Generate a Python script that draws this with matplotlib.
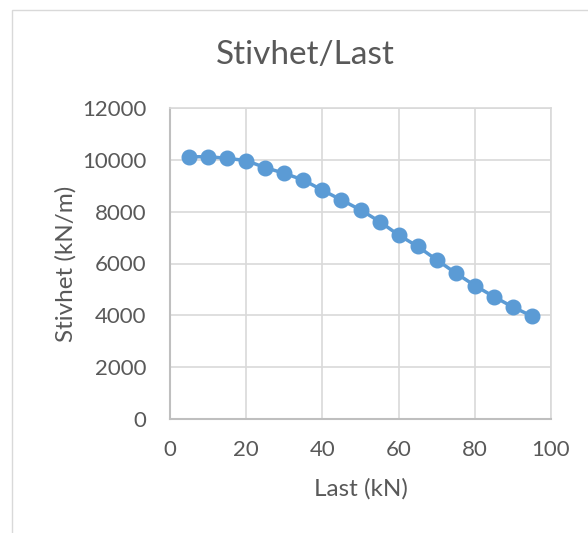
import matplotlib
matplotlib.use("Agg")
import matplotlib.pyplot as plt
from matplotlib.patches import Rectangle

# Load vs. stiffness measurements
last_kn = [5, 10, 15, 20, 25, 30, 35, 40, 45, 50, 55, 60, 65, 70, 75, 80, 85, 90, 95]
stivhet = [10120, 10120, 10060, 9970, 9700, 9480, 9220, 8830, 8450, 8070,
           7620, 7100, 6660, 6140, 5630, 5150, 4720, 4320, 3970]

x_ticks = [0, 20, 40, 60, 80, 100]
y_ticks = [0, 2000, 4000, 6000, 8000, 10000, 12000]

plt.rcParams['font.family'] = ['Lato', 'DejaVu Sans']
text_color = '#595959'
series_color = '#5B9BD5'

fig = plt.figure(figsize=(5.88, 5.33), dpi=100)
fig.patch.set_facecolor('white')

# chart frame
fig.patches.append(Rectangle((12 / 588, -0.1), 1.2, 1 - 10 / 533 + 0.1,
                             transform=fig.transFigure, fill=False,
                             edgecolor='#D9D9D9', linewidth=1.0))

ax = fig.add_axes([170 / 588, 1 - 419 / 533, 381 / 588, 311 / 533])
ax.plot(last_kn, stivhet, color=series_color, linewidth=2.5,
        marker='o', markersize=10.5, markerfacecolor=series_color,
        markeredgecolor=series_color, zorder=3)

ax.set_xlim(0, 100)
ax.set_ylim(0, 12000)
ax.set_xticks(x_ticks)
ax.set_yticks(y_ticks)
ax.grid(True, color='#D9D9D9', linewidth=1.2)
ax.set_axisbelow(True)
ax.tick_params(length=0, labelsize=16, labelcolor=text_color)
ax.tick_params(axis='y', pad=17)
ax.tick_params(axis='x', pad=15)

for side in ['top', 'right']:
    ax.spines[side].set_color('#D9D9D9')
    ax.spines[side].set_linewidth(1.2)
for side in ['left', 'bottom']:
    ax.spines[side].set_color('#BFBFBF')
    ax.spines[side].set_linewidth(1.5)

ax.set_xlabel('Last (kN)', fontsize=17.5, color=text_color, labelpad=13)
ax.set_ylabel('Stivhet (kN/m)', fontsize=17.5, color=text_color, labelpad=4)

fig.text(305 / 588, 1 - 55 / 533, 'Stivhet/Last', fontsize=24,
         color=text_color, ha='center', va='center')

fig.savefig('out.png', dpi=100)
